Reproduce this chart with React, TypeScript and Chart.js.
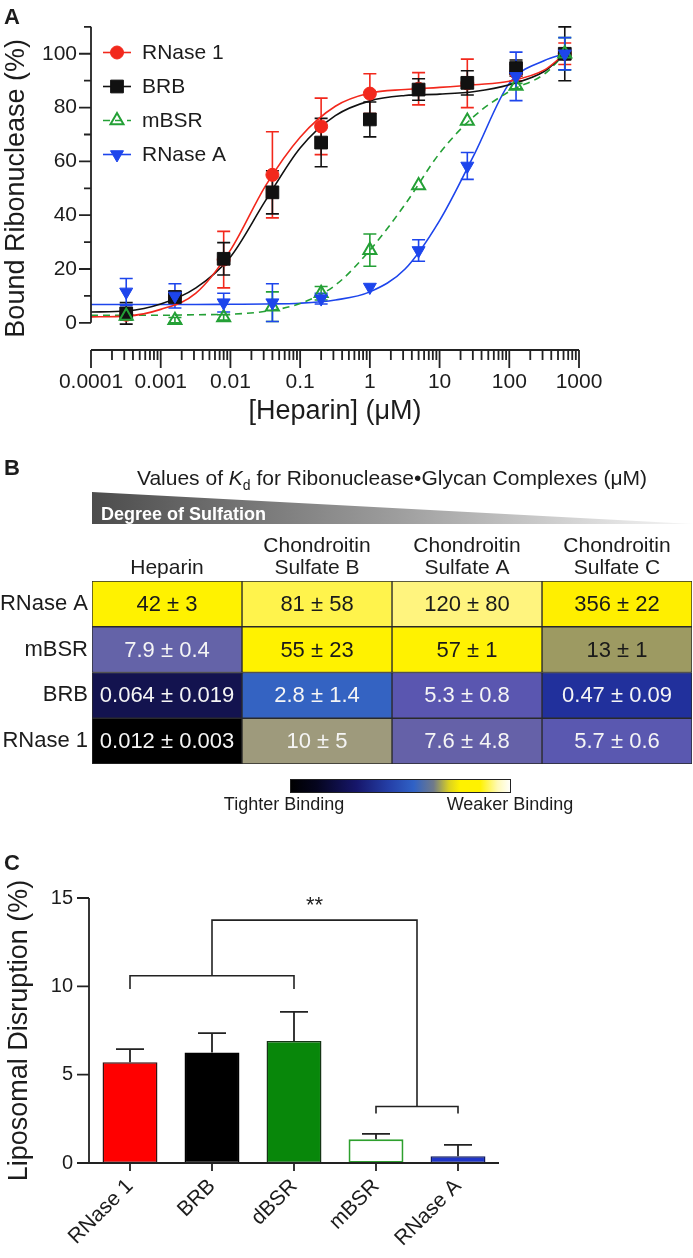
import React, { useEffect, useRef } from 'react';
import { Chart, registerables } from 'chart.js';

Chart.register(...registerables);

const FONT = "'Liberation Sans', Arial, Helvetica, sans-serif";
const INK = '#1c1c1c';
Chart.defaults.font.family = FONT;
Chart.defaults.color = INK;

// ---------------- Panel A : heparin binding ----------------
const HEPARIN_UM = [0.00032, 0.0016, 0.008, 0.04, 0.2, 1, 5, 25, 125, 625];
const RNASE1_BOUND = [3, 9.5, 23.5, 55, 73, 85.2, 87, 89, 93, 100];
const RNASE1_SEM = [1.5, 1.5, 10.5, 16, 10.5, 7.4, 6, 9, 3, 4];
const BRB_BOUND = [3.5, 9.6, 23.8, 48.5, 67, 75.6, 86.7, 89.2, 94.7, 100];
const BRB_SEM = [4, 2, 6, 8, 9, 6.5, 4, 4.5, 3, 10];
const MBSR_BOUND = [2.5, 1, 2, 6, 11, 27, 51, 75, 88, 100];
const MBSR_SEM = [1.5, 1, 1, 5.5, 2.5, 6, 0, 0, 1, 6];
const RNASEA_BOUND = [11.5, 10, 7.5, 7.5, 9, 13.3, 26.9, 58.3, 91.6, 100];
const RNASEA_SEM = [5, 4.5, 3.5, 7, 2, 0, 4, 5, 9, 6];

const FIT_UM = [0.0001, 0.00032, 0.001, 0.0032, 0.01, 0.032, 0.1, 0.32, 1, 3.2, 10, 32, 100, 320, 625];
const RNASE1_FIT = [2.2, 2.5, 5, 11, 27, 51, 69, 80.5, 85.4, 86.7, 87.5, 88.5, 89.8, 94, 100];
const BRB_FIT = [4, 4.4, 7, 13, 24.5, 45.5, 65, 77, 82.5, 84.5, 85, 86, 88.5, 93.5, 100];
const MBSR_FIT = [2.8, 2.8, 2.8, 3, 3.2, 4.3, 7.2, 14, 27, 44, 63, 77, 86, 92.5, 100];
const RNASEA_FIT = [6.8, 6.8, 6.8, 6.8, 6.9, 7, 7.3, 8.5, 11.5, 20, 38, 63, 89, 97.5, 100];

const X_TICKS_A = [0.0001, 0.001, 0.01, 0.1, 1, 10, 100, 1000];
const X_TICK_LABELS_A = ['0.0001', '0.001', '0.01', '0.1', '1', '10', '100', '1000'];
const Y_TICKS_A = [0, 20, 40, 60, 80, 100];
const Y_MINOR_A = [10, 30, 50, 70, 90, 110];

const SERIES_A = [
  { name: 'RNase 1', y: RNASE1_BOUND, err: RNASE1_SEM, fit: RNASE1_FIT, color: '#f2281c', style: 'circle', radius: 6.5, rotation: 0, filled: true, dash: [] as number[] },
  { name: 'BRB', y: BRB_BOUND, err: BRB_SEM, fit: BRB_FIT, color: '#111111', style: 'rect', radius: 9, rotation: 0, filled: true, dash: [] as number[] },
  { name: 'mBSR', y: MBSR_BOUND, err: MBSR_SEM, fit: MBSR_FIT, color: '#24a036', style: 'triangle', radius: 7.5, rotation: 0, filled: false, dash: [7, 5] },
  { name: 'RNase A', y: RNASEA_BOUND, err: RNASEA_SEM, fit: RNASEA_FIT, color: '#1d45ec', style: 'triangle', radius: 7.5, rotation: 180, filled: true, dash: [] as number[] },
];

// ---------------- Panel B : Kd table ----------------
const GLYCANS = [['Heparin'], ['Chondroitin', 'Sulfate B'], ['Chondroitin', 'Sulfate A'], ['Chondroitin', 'Sulfate C']];
const RIBONUCLEASES = ['RNase A', 'mBSR', 'BRB', 'RNase 1'];
const KD_HEPARIN = [42, 7.9, 0.064, 0.012];
const KD_HEPARIN_ERR = [3, 0.4, 0.019, 0.003];
const KD_CSB = [81, 55, 2.8, 10];
const KD_CSB_ERR = [58, 23, 1.4, 5];
const KD_CSA = [120, 57, 5.3, 7.6];
const KD_CSA_ERR = [80, 1, 0.8, 4.8];
const KD_CSC = [356, 13, 0.47, 5.7];
const KD_CSC_ERR = [22, 1, 0.09, 0.6];
const KD_COLUMNS = [KD_HEPARIN, KD_CSB, KD_CSA, KD_CSC];
const KD_ERR_COLUMNS = [KD_HEPARIN_ERR, KD_CSB_ERR, KD_CSA_ERR, KD_CSC_ERR];

// cell fill / text colours (rows x columns)
const CELL_FILL = [
  ['#fff200', '#fff34c', '#fff47e', '#ffef00'],
  ['#6463a8', '#fff200', '#fff200', '#9d9a62'],
  ['#13134f', '#3463c2', '#5a56b0', '#21309c'],
  ['#000000', '#9e9a7c', '#6561a8', '#5a58b0'],
];
const CELL_TEXT_DARK = [
  [true, true, true, true],
  [false, true, true, true],
  [false, false, false, false],
  [false, false, false, false],
];

// ---------------- Panel C : liposome disruption ----------------
const LIPO_LABELS = ['RNase 1', 'BRB', 'dBSR', 'mBSR', 'RNase A'];
const LIPO_DISRUPTION = [5.7, 6.25, 6.9, 1.35, 0.38];
const LIPO_SEM = [0.75, 1.1, 1.65, 0.3, 0.65];
const Y_TICKS_C = [0, 5, 10, 15];
const SIG_LEFT_GROUP = [0, 2];
const SIG_RIGHT_GROUP = [3, 4];
const SIG_LEFT_LEVEL = 10.6;
const SIG_LEFT_LEG = 9.85;
const SIG_RIGHT_LEVEL = 3.2;
const SIG_RIGHT_LEG = 2.8;
const SIG_TOP_LEVEL = 13.75;
const SIG_TEXT_LEVEL = 14.55;
const SIG_TEXT = '**';

const BAR_FILL = ['#ff0000', '#000000', '#08870a', '#ffffff', '#1f35c8'];
const BAR_EDGE = ['#3a1010', '#000000', '#153515', '#2ea02e', '#0f1a60'];

// ---------------- helpers ----------------
function drawMarker(ctx: any, s: any, x: number, y: number) {
  ctx.save();
  ctx.fillStyle = s.filled ? s.color : '#ffffff';
  ctx.strokeStyle = s.color;
  ctx.lineWidth = s.filled ? 1 : 2;
  ctx.beginPath();
  if (s.style === 'circle') {
    ctx.arc(x, y, s.radius, 0, Math.PI * 2);
  } else if (s.style === 'rect') {
    const h = Math.SQRT1_2 * s.radius;
    ctx.rect(x - h, y - h, 2 * h, 2 * h);
  } else {
    const r = s.radius;
    let a = (s.rotation * Math.PI) / 180;
    ctx.moveTo(x + Math.sin(a) * r, y - Math.cos(a) * r);
    a += (2 * Math.PI) / 3;
    ctx.lineTo(x + Math.sin(a) * r, y - Math.cos(a) * r);
    a += (2 * Math.PI) / 3;
    ctx.lineTo(x + Math.sin(a) * r, y - Math.cos(a) * r);
    ctx.closePath();
  }
  if (s.filled) ctx.fill();
  ctx.stroke();
  ctx.restore();
}

const panelAPlugin = {
  id: 'panelA',
  beforeDatasetsDraw(chart: any) {
    const { ctx } = chart;
    const xs = chart.scales.x;
    const ys = chart.scales.y;
    chart.data.datasets.forEach((ds: any) => {
      if (!ds.errorBars) return;
      ctx.save();
      ctx.strokeStyle = ds.borderColor;
      ctx.lineWidth = 1.6;
      ds.data.forEach((p: any, i: number) => {
        const e = ds.errorBars[i];
        if (!e) return;
        const px = xs.getPixelForValue(p.x);
        const yt = ys.getPixelForValue(p.y + e);
        const yb = ys.getPixelForValue(p.y - e);
        ctx.beginPath();
        ctx.moveTo(px, yt); ctx.lineTo(px, yb);
        ctx.moveTo(px - 6.5, yt); ctx.lineTo(px + 6.5, yt);
        ctx.moveTo(px - 6.5, yb); ctx.lineTo(px + 6.5, yb);
        ctx.stroke();
      });
      ctx.restore();
    });
  },
  afterDraw(chart: any) {
    const { ctx, chartArea } = chart;
    const xs = chart.scales.x;
    const ys = chart.scales.y;
    ctx.save();
    ctx.strokeStyle = '#222';
    ctx.lineWidth = 1.8;
    // y axis
    const x0 = chartArea.left;
    ctx.beginPath();
    ctx.moveTo(x0, ys.getPixelForValue(0));
    ctx.lineTo(x0, ys.getPixelForValue(110));
    Y_TICKS_A.forEach((v) => { const p = ys.getPixelForValue(v); ctx.moveTo(x0, p); ctx.lineTo(x0 - 12, p); });
    Y_MINOR_A.forEach((v) => { const p = ys.getPixelForValue(v); ctx.moveTo(x0, p); ctx.lineTo(x0 - 7, p); });
    ctx.stroke();
    // x axis (offset)
    const yb = chartArea.bottom;
    ctx.beginPath();
    ctx.moveTo(xs.getPixelForValue(0.0001), yb);
    ctx.lineTo(xs.getPixelForValue(1000), yb);
    X_TICKS_A.forEach((v, i) => {
      const p = xs.getPixelForValue(v);
      ctx.moveTo(p, yb); ctx.lineTo(p, yb + 18);
      if (i < X_TICKS_A.length - 1) {
        for (let m = 2; m <= 9; m++) {
          const q = xs.getPixelForValue(v * m);
          ctx.moveTo(q, yb); ctx.lineTo(q, yb + 10);
        }
      }
    });
    ctx.stroke();
    // legend
    SERIES_A.forEach((s, k) => {
      const yy = 52.5 + k * 34;
      ctx.save();
      ctx.strokeStyle = s.color;
      ctx.lineWidth = 1.6;
      ctx.setLineDash(s.dash);
      ctx.beginPath(); ctx.moveTo(103, yy); ctx.lineTo(131, yy); ctx.stroke();
      ctx.restore();
      drawMarker(ctx, s, 117, yy);
      ctx.fillStyle = INK;
      ctx.font = `21px ${FONT}`;
      ctx.textBaseline = 'middle';
      ctx.textAlign = 'left';
      ctx.fillText(s.name, 142, yy + 1);
    });
    // panel letter
    ctx.fillStyle = INK;
    ctx.font = `bold 22px ${FONT}`;
    ctx.textBaseline = 'alphabetic';
    ctx.fillText('A', 4, 24);
    ctx.restore();
  },
};

const panelBPlugin = {
  id: 'panelB',
  afterDatasetsDraw(chart: any) {
    const { ctx } = chart;
    ctx.save();
    ctx.font = `22px ${FONT}`;
    ctx.textAlign = 'center';
    ctx.textBaseline = 'middle';
    chart.data.datasets.forEach((ds: any, j: number) => {
      const meta = chart.getDatasetMeta(j);
      meta.data.forEach((el: any, i: number) => {
        const cx = (el.x + el.base) / 2;
        ctx.fillStyle = CELL_TEXT_DARK[i][j] ? '#1a1a1a' : '#f5f5f5';
        ctx.fillText(`${KD_COLUMNS[j][i]} ± ${KD_ERR_COLUMNS[j][i]}`, cx, el.y + 1);
      });
    });
    ctx.restore();
  },
  afterDraw(chart: any) {
    const { ctx, chartArea } = chart;
    ctx.save();
    // letter
    ctx.fillStyle = INK;
    ctx.font = `bold 22px ${FONT}`;
    ctx.textBaseline = 'alphabetic';
    ctx.textAlign = 'left';
    ctx.fillText('B', 4, 35);
    // title with italic K and subscript d
    const parts = [
      { t: 'Values of ', f: `21px ${FONT}`, dy: 0 },
      { t: 'K', f: `italic 21px ${FONT}`, dy: 0 },
      { t: 'd', f: `14px ${FONT}`, dy: 5 },
      { t: ' for Ribonuclease•Glycan Complexes (μM)', f: `21px ${FONT}`, dy: 0 },
    ];
    let total = 0;
    parts.forEach((p) => { ctx.font = p.f; total += ctx.measureText(p.t).width; });
    let tx = (chartArea.left + chartArea.right) / 2 - total / 2;
    parts.forEach((p) => {
      ctx.font = p.f;
      ctx.fillText(p.t, tx, 44.5 + p.dy);
      tx += ctx.measureText(p.t).width;
    });
    // sulfation wedge
    const wl = chartArea.left;
    const g = ctx.createLinearGradient(wl, 0, 693, 0);
    g.addColorStop(0, '#4c4c4c');
    g.addColorStop(0.5, '#9c9c9c');
    g.addColorStop(0.9, '#e6e6e6');
    g.addColorStop(1, '#f6f6f6');
    ctx.fillStyle = g;
    ctx.beginPath();
    ctx.moveTo(wl, 52);
    ctx.lineTo(693, 84);
    ctx.lineTo(wl, 84);
    ctx.closePath();
    ctx.fill();
    ctx.fillStyle = '#ffffff';
    ctx.font = `bold 18px ${FONT}`;
    ctx.fillText('Degree of Sulfation', wl + 9, 79.5);
    // colour bar
    const cbL = 290, cbR = 511, cbT = 339, cbB = 353;
    const cg = ctx.createLinearGradient(cbL, 0, cbR, 0);
    cg.addColorStop(0, '#000000');
    cg.addColorStop(0.12, '#05051e');
    cg.addColorStop(0.3, '#16166a');
    cg.addColorStop(0.45, '#2540a8');
    cg.addColorStop(0.56, '#3062c6');
    cg.addColorStop(0.65, '#707a8a');
    cg.addColorStop(0.72, '#dcd220');
    cg.addColorStop(0.77, '#fff200');
    cg.addColorStop(0.86, '#fff200');
    cg.addColorStop(0.94, '#fffab8');
    cg.addColorStop(1, '#ffffff');
    ctx.fillStyle = cg;
    ctx.fillRect(cbL, cbT, cbR - cbL, cbB - cbT);
    ctx.strokeStyle = '#222';
    ctx.lineWidth = 1;
    ctx.strokeRect(cbL + 0.5, cbT + 0.5, cbR - cbL - 1, cbB - cbT - 1);
    ctx.fillStyle = INK;
    ctx.font = `18px ${FONT}`;
    ctx.textAlign = 'center';
    ctx.fillText('Tighter Binding', 284, 370);
    ctx.fillText('Weaker Binding', 510, 370);
    ctx.restore();
  },
};

const panelCPlugin = {
  id: 'panelC',
  afterDatasetsDraw(chart: any) {
    const { ctx, chartArea } = chart;
    const xs = chart.scales.x;
    const ys = chart.scales.y;
    ctx.save();
    ctx.strokeStyle = '#222';
    ctx.lineWidth = 1.8;
    // error bars (upper)
    const ds: any = chart.data.datasets[0];
    ds.data.forEach((v: number, i: number) => {
      const px = xs.getPixelForValue(i);
      const y0 = ys.getPixelForValue(v);
      const y1 = ys.getPixelForValue(v + ds.errorBars[i]);
      ctx.beginPath();
      ctx.moveTo(px, y0); ctx.lineTo(px, y1);
      ctx.moveTo(px - 14, y1); ctx.lineTo(px + 14, y1);
      ctx.stroke();
    });
    // axes
    const x0 = chartArea.left;
    const yb = ys.getPixelForValue(0);
    ctx.beginPath();
    ctx.moveTo(x0, yb); ctx.lineTo(x0, ys.getPixelForValue(15));
    Y_TICKS_C.forEach((v) => { const p = ys.getPixelForValue(v); ctx.moveTo(x0, p); ctx.lineTo(x0 - 12, p); });
    ctx.moveTo(x0, yb); ctx.lineTo(chartArea.right, yb);
    LIPO_LABELS.forEach((_, i) => { const p = xs.getPixelForValue(i); ctx.moveTo(p, yb); ctx.lineTo(p, yb + 8); });
    ctx.stroke();
    // significance brackets
    const lA = xs.getPixelForValue(SIG_LEFT_GROUP[0]);
    const rA = xs.getPixelForValue(SIG_LEFT_GROUP[1]);
    const lB = xs.getPixelForValue(SIG_RIGHT_GROUP[0]);
    const rB = xs.getPixelForValue(SIG_RIGHT_GROUP[1]);
    const hA = ys.getPixelForValue(SIG_LEFT_LEVEL);
    const hA2 = ys.getPixelForValue(SIG_LEFT_LEG);
    const hB = ys.getPixelForValue(SIG_RIGHT_LEVEL);
    const hB2 = ys.getPixelForValue(SIG_RIGHT_LEG);
    const hT = ys.getPixelForValue(SIG_TOP_LEVEL);
    const mA = (lA + rA) / 2;
    const mB = (lB + rB) / 2;
    ctx.lineWidth = 1.6;
    ctx.beginPath();
    ctx.moveTo(lA, hA2); ctx.lineTo(lA, hA); ctx.lineTo(rA, hA); ctx.lineTo(rA, hA2);
    ctx.moveTo(lB, hB2); ctx.lineTo(lB, hB); ctx.lineTo(rB, hB); ctx.lineTo(rB, hB2);
    ctx.moveTo(mA, hA); ctx.lineTo(mA, hT); ctx.lineTo(mB, hT); ctx.lineTo(mB, hB);
    ctx.stroke();
    ctx.fillStyle = INK;
    ctx.font = `22px ${FONT}`;
    ctx.textAlign = 'center';
    ctx.textBaseline = 'middle';
    ctx.fillText(SIG_TEXT, (mA + mB) / 2, ys.getPixelForValue(SIG_TEXT_LEVEL));
    // letter
    ctx.font = `bold 22px ${FONT}`;
    ctx.textAlign = 'left';
    ctx.textBaseline = 'alphabetic';
    ctx.fillText('C', 4, 50);
    ctx.restore();
  },
};

function makeA(canvas: HTMLCanvasElement) {
  const datasets: any[] = [];
  SERIES_A.forEach((s, k) => {
    datasets.push({
      label: s.name + ' fit',
      data: FIT_UM.map((x, i) => ({ x, y: s.fit[i] })),
      showLine: true,
      borderColor: s.color,
      borderWidth: 1.6,
      borderDash: s.dash,
      pointRadius: 0,
      fill: false,
      cubicInterpolationMode: 'monotone',
      order: 10 + k,
    });
    datasets.push({
      label: s.name,
      data: HEPARIN_UM.map((x, i) => ({ x, y: s.y[i] })),
      showLine: false,
      pointStyle: s.style,
      pointRadius: s.radius,
      pointRotation: s.rotation,
      pointBackgroundColor: s.filled ? s.color : 'rgba(255,255,255,0)',
      pointBorderColor: s.color,
      pointBorderWidth: s.filled ? 1 : 2,
      borderColor: s.color,
      errorBars: s.err,
      order: 4 - k,
    });
  });
  return new Chart(canvas, {
    type: 'scatter',
    data: { datasets },
    options: {
      responsive: false,
      animation: false,
      layout: { padding: { left: 0, right: 114, top: 25, bottom: 0 } },
      scales: {
        x: {
          type: 'logarithmic',
          min: 0.0001,
          max: 1000,
          grid: { display: false, drawTicks: false },
          border: { display: false },
          afterFit: (s: any) => { s.height = 80; },
          afterBuildTicks: (s: any) => { s.ticks = X_TICKS_A.map((v) => ({ value: v })); },
          ticks: { autoSkip: false, maxRotation: 0, padding: 20, font: { size: 21 }, color: INK, callback: (_v: any, i: number) => X_TICK_LABELS_A[i] },
          title: { display: true, text: '[Heparin] (μM)', font: { size: 27 }, color: INK, padding: { top: 0, bottom: 2 } },
        },
        y: {
          type: 'linear',
          min: -10.1,
          max: 110.1,
          grid: { display: false, drawTicks: false },
          border: { display: false },
          afterFit: (s: any) => { s.width = 91; },
          afterBuildTicks: (s: any) => { s.ticks = Y_TICKS_A.map((v) => ({ value: v })); },
          ticks: { padding: 14, font: { size: 21 }, color: INK },
          title: { display: true, text: 'Bound Ribonuclease (%)', font: { size: 27 }, color: INK, padding: { top: 0, bottom: 0 } },
        },
      },
      plugins: { legend: { display: false }, tooltip: { enabled: false } },
    } as any,
    plugins: [panelAPlugin],
  } as any);
}

function makeB(canvas: HTMLCanvasElement) {
  const datasets = GLYCANS.map((g, j) => ({
    label: g.join(' '),
    data: RIBONUCLEASES.map(() => 1),
    backgroundColor: CELL_FILL.map((row) => row[j]),
    borderColor: '#2a2a2a',
    borderWidth: 1,
    borderSkipped: false,
    barPercentage: 1,
    categoryPercentage: 1,
  }));
  return new Chart(canvas, {
    type: 'bar',
    data: { labels: RIBONUCLEASES, datasets },
    options: {
      indexAxis: 'y',
      responsive: false,
      animation: false,
      layout: { padding: { left: 0, right: 1, top: 0, bottom: 56 } },
      scales: {
        x: {
          type: 'linear',
          position: 'top',
          stacked: true,
          min: 0,
          max: GLYCANS.length,
          grid: { display: false, drawTicks: false },
          border: { display: false },
          afterFit: (s: any) => { s.height = 141; },
          afterBuildTicks: (s: any) => { s.ticks = GLYCANS.map((_, j) => ({ value: j + 0.5 })); },
          ticks: { autoSkip: false, maxRotation: 0, padding: 2, font: { size: 21, lineHeight: 1.05 }, color: INK, callback: (_v: any, i: number) => GLYCANS[i] },
        },
        y: {
          type: 'category',
          stacked: true,
          grid: { display: false, drawTicks: false },
          border: { display: false },
          afterFit: (s: any) => { s.width = 92; },
          ticks: { padding: 4, font: { size: 22 }, color: INK },
        },
      },
      plugins: { legend: { display: false }, tooltip: { enabled: false } },
    } as any,
    plugins: [panelBPlugin],
  } as any);
}

function makeC(canvas: HTMLCanvasElement) {
  return new Chart(canvas, {
    type: 'bar',
    data: {
      labels: LIPO_LABELS,
      datasets: [{
        label: 'Liposomal disruption',
        data: LIPO_DISRUPTION,
        errorBars: LIPO_SEM,
        backgroundColor: BAR_FILL,
        borderColor: BAR_EDGE,
        borderWidth: [1.5, 1.5, 1.5, 2, 1.5],
        borderSkipped: false,
        barPercentage: 0.67,
        categoryPercentage: 1,
      } as any],
    },
    options: {
      responsive: false,
      animation: false,
      layout: { padding: { left: 0, right: 194, top: 78, bottom: 0 } },
      scales: {
        x: {
          grid: { display: false, drawTicks: false },
          border: { display: false },
          afterFit: (s: any) => { s.height = 95; },
          ticks: { autoSkip: false, minRotation: 45, maxRotation: 45, padding: 11, font: { size: 21 }, color: INK },
        },
        y: {
          min: 0,
          max: 15,
          grid: { display: false, drawTicks: false },
          border: { display: false },
          afterFit: (s: any) => { s.width = 89; },
          afterBuildTicks: (s: any) => { s.ticks = Y_TICKS_C.map((v) => ({ value: v })); },
          ticks: { padding: 16, font: { size: 20 }, color: INK },
          title: { display: true, text: 'Liposomal Disruption (%)', font: { size: 27 }, color: INK, padding: { top: 3, bottom: 0 } },
        },
      },
      plugins: { legend: { display: false }, tooltip: { enabled: false } },
    } as any,
    plugins: [panelCPlugin],
  } as any);
}

export default function App() {
  const refA = useRef<HTMLCanvasElement>(null);
  const refB = useRef<HTMLCanvasElement>(null);
  const refC = useRef<HTMLCanvasElement>(null);

  useEffect(() => {
    const a = makeA(refA.current as HTMLCanvasElement);
    const b = makeB(refB.current as HTMLCanvasElement);
    const c = makeC(refC.current as HTMLCanvasElement);
    return () => { a.destroy(); b.destroy(); c.destroy(); };
  }, []);

  return (
    <div style={{ position: 'absolute', left: 0, top: 0, width: 693, height: 1258, background: '#ffffff', overflow: 'hidden' }}>
      <canvas ref={refA} width={693} height={430} style={{ position: 'absolute', left: 0, top: 0 }} />
      <canvas ref={refB} width={693} height={380} style={{ position: 'absolute', left: 0, top: 440 }} />
      <canvas ref={refC} width={693} height={438} style={{ position: 'absolute', left: 0, top: 820 }} />
    </div>
  );
}
